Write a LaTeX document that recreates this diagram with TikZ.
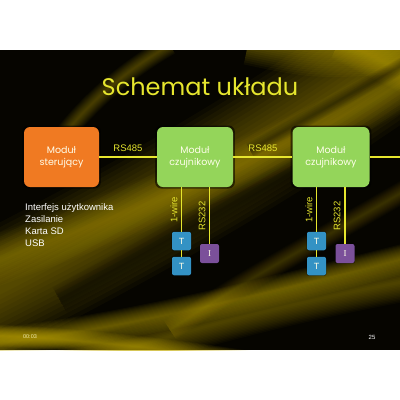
\documentclass[tikz,border=0pt]{standalone}
\usepackage{fontspec}
\setmainfont{Liberation Sans}
\newfontfamily\gothic{Poppins}
\newfontfamily\serifI{Liberation Serif}
\usetikzlibrary{shadows}
\definecolor{ylw}{HTML}{E6E62E}
\definecolor{orng}{HTML}{F07A22}
\definecolor{grn}{HTML}{94D55A}
\definecolor{tblue}{HTML}{3392C4}
\definecolor{ipurp}{HTML}{7B509A}
\definecolor{streak}{HTML}{C8AE00}
\definecolor{bgdark}{HTML}{060500}
\newcommand\glow[4]{\foreach \k in {1,...,14}{\draw[#4, line width={#1*\k/14}, opacity=#2] #3;}}
\tikzset{
  halo/.style={general shadow={fill=black, opacity=0.55, shadow scale=1.05}},
  bigbox/.style={rounded corners=6pt, minimum width=76pt, minimum height=60pt, align=center,
     font=\gothic\fontsize{9.5}{12}\selectfont, text=white!92!yellow, halo},
  smallbox/.style={rounded corners=2pt, minimum width=19pt, minimum height=18.5pt, inner sep=0pt,
     font=\fontsize{9}{10}\selectfont, text=white!90!yellow, halo},
  wire/.style={ylw, line width=1.5pt},
  wlabel/.style={text=ylw, font=\fontsize{9.5}{11}\selectfont, inner sep=1pt},
}
\begin{document}
\begin{tikzpicture}[x=1pt,y=-1pt]
\useasboundingbox (0,0) rectangle (400,400);
\fill[white] (0,0) rectangle (400,400);
\fill[bgdark] (0,50) rectangle (400,350);
\begin{scope}
\clip (0,50) rectangle (400,350);
% main broad diagonal band
\glow{120}{0.04}{(460,10) .. controls (320,110) and (200,190) .. (-40,310)}{streak}
\glow{50}{0.035}{(440,60) .. controls (330,130) and (220,180) .. (-30,270)}{streak}
% top right brightness
\glow{60}{0.05}{(250,35) .. controls (320,50) .. (440,40)}{streak}
\glow{40}{0.04}{(340,40) -- (440,90)}{streak}
% darker streaks through the bright area
\glow{16}{0.035}{(430,50) .. controls (340,100) .. (250,150)}{black}
\glow{30}{0.03}{(320,160) .. controls (200,220) .. (60,300)}{black}
% faint upper-left wisp
\glow{20}{0.03}{(170,45) .. controls (110,80) and (70,120) .. (40,170)}{streak}
% faint middle-right streaks
\glow{22}{0.025}{(440,170) .. controls (340,230) and (260,270) .. (170,330)}{streak}
% bottom sweeping bands
\glow{30}{0.05}{(-20,345) .. controls (120,330) and (240,300) .. (440,250)}{streak}
\glow{40}{0.035}{(60,370) .. controls (200,325) and (300,300) .. (440,275)}{streak}
\glow{22}{0.06}{(-20,335) .. controls (60,338) and (150,345) .. (300,370)}{streak}
\end{scope}

\node[text=ylw, font=\gothic\fontsize{24}{28}\selectfont] (title) at (200,87) {Schemat układu};

\node[bigbox, fill=orng, minimum width=75pt] (ctrl) at (61.5,157) {Moduł\\sterujący};
\node[bigbox, fill=grn] (s1) at (195,157) {Moduł\\czujnikowy};
\node[bigbox, fill=grn, minimum width=77pt] (s2) at (331,157) {Moduł\\czujnikowy};
\coordinate (edge) at (400,157);

\node[smallbox, fill=tblue] (t1a) at (181.5,241) {T};
\node[smallbox, fill=tblue] (t1b) at (181.5,266) {T};
\node[smallbox, fill=ipurp, minimum height=19pt] (i1) at (209.5,253.5) {\serifI I};
\node[smallbox, fill=tblue] (t2a) at (316.5,241) {T};
\node[smallbox, fill=tblue] (t2b) at (316.5,266) {T};
\node[smallbox, fill=ipurp, minimum height=19pt] (i2) at (345,253.5) {\serifI I};

\draw[wire] (ctrl.east) -- (s1.west);
\draw[wire] (s1.east) -- (s2.west);
\draw[wire] (s2.east) -- (edge);
\draw[wire] (t1a.north |- s1.south) -- (t1a.north);
\draw[wire] (t1a.south) -- (t1b.north);
\draw[wire] (i1.north |- s1.south) -- (i1.north);
\draw[wire] (t2a.north |- s2.south) -- (t2a.north);
\draw[wire] (t2a.south) -- (t2b.north);
\draw[wire] (i2.north |- s2.south) -- (i2.north);

\node[wlabel] (l1) at (128,148) {RS485};
\node[wlabel] (l2) at (263,148) {RS485};
\node[wlabel, rotate=90] (w1) at (174,210) {1-wire};
\node[wlabel, rotate=90] (r1) at (202,216) {RS232};
\node[wlabel, rotate=90] (w2) at (309,210) {1-wire};
\node[wlabel, rotate=90] (r2) at (337,216) {RS232};

\node[anchor=north west, align=left, text=white, inner sep=0pt,
  font=\fontsize{9.5}{12.2}\selectfont] (list) at (25,203)
  {Interfejs użytkownika\\Zasilanie\\Karta SD\\USB};

\node[text=white!80!yellow, font=\fontsize{5.5}{6}\selectfont, opacity=0.85] (time) at (30,337) {00:03};
\node[text=white!80, font=\fontsize{6}{7}\selectfont] (page) at (372,337) {25};
\end{tikzpicture}
\end{document}
